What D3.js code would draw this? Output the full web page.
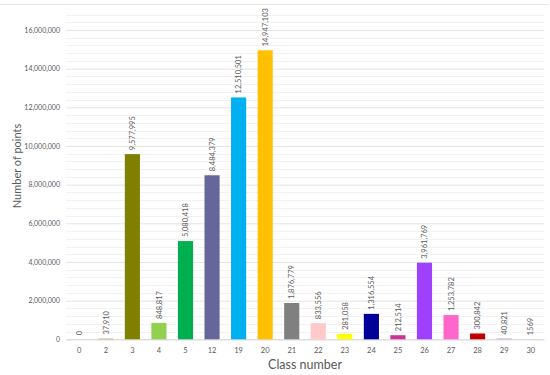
<!DOCTYPE html>
<html><head><meta charset="utf-8">
<script src="https://cdn.jsdelivr.net/npm/d3@7"></script>
<style>body{margin:0;background:#fff}svg{display:block}</style>
</head><body>
<svg id="chart" width="550" height="375"></svg>
<script>
const categories = ["0","2","3","4","5","12","19","20","21","22","23","24","25","26","27","28","29","30"];
const values = [0,37910,9577995,848817,5080418,8484379,12510501,14947103,1876779,833556,281058,1316554,212514,3961769,1253782,300842,40821,1569];
const labels = ["0","37,910","9,577,995","848,817","5,080,418","8,484,379","12,510,501","14,947,103","1,876,779","833,556","281,058","1,316,554","212,514","3,961,769","1,253,782","300,842","40,821","1569"];
const colors = ["#c8a386","#c8a386","#808000","#92d050","#00b050","#66669a","#00b0f0","#ffc000","#808080","#ffc9c9","#ffff00","#000099","#cc3399","#a040ff","#ff66cc","#c00000","#cc99dd","#cc99dd"];
const yTicks = [0,2000000,4000000,6000000,8000000,10000000,12000000,14000000,16000000];

const svg = d3.select("#chart");
const font = "Lato, 'Open Sans', sans-serif";
const pL = 66, pR = 544, pT = 14.5, pB = 339.3;

const x = d3.scaleBand().domain(categories).range([pL, pR]).paddingInner(0).paddingOuter(0);
const y = d3.scaleLinear().domain([0, 16800000]).range([pB, pT]);

// chart border (top)
svg.append("line").attr("x1",0).attr("x2",548).attr("y1",4.5).attr("y2",4.5)
  .attr("stroke","#e6e6e6").attr("stroke-width",1);

// minor gridlines
const minor = d3.range(400000, 16800001, 400000).filter(v => v % 2000000 !== 0);
svg.append("g").selectAll("line").data(minor).join("line")
  .attr("x1",pL).attr("x2",pR)
  .attr("y1",d=>Math.round(y(d))+0.5).attr("y2",d=>Math.round(y(d))+0.5)
  .attr("stroke","#f2f2f2").attr("stroke-width",1);

// major gridlines via axis
const yAxis = d3.axisLeft(y).tickValues(yTicks).tickSize(-(pR-pL)).tickPadding(6)
  .tickFormat(d3.format(","));
const gy = svg.append("g").attr("transform",`translate(${pL},0)`).call(yAxis);
gy.select(".domain").remove();
gy.selectAll(".tick line").attr("stroke","#e3e3e3");
gy.selectAll(".tick text").attr("fill","#595959").style("font-family",font).style("font-size","7px");

// x axis baseline
const xAxis = d3.axisBottom(x).tickSize(0).tickPadding(8);
const gx = svg.append("g").attr("transform",`translate(0,${pB})`).call(xAxis);
gx.select(".domain").attr("stroke","#d9d9d9");
gx.selectAll(".tick text").attr("fill","#595959").style("font-family",font).style("font-size","7.5px");

// bars
const bw = x.bandwidth()*0.57;
svg.append("g").selectAll("rect").data(values).join("rect")
  .attr("x",(d,i)=>x(categories[i]) + (x.bandwidth()-bw)/2)
  .attr("width",bw)
  .attr("y",d=>y(d))
  .attr("height",d=>pB - y(d))
  .attr("fill",(d,i)=>colors[i]);

// data labels
svg.append("g").selectAll("text").data(values).join("text")
  .attr("transform",(d,i)=>`translate(${x(categories[i]) + x.bandwidth()/2 + 2.7},${y(d)-4}) rotate(-90)`)
  .attr("text-anchor","start")
  .attr("fill","#595959")
  .style("font-family",font).style("font-size","7.5px")
  .text((d,i)=>labels[i]);

// axis titles
svg.append("text").attr("transform",`translate(20.5,166) rotate(-90)`)
  .attr("text-anchor","middle").attr("fill","#595959")
  .style("font-family",font).style("font-size","11px").text("Number of points");
svg.append("text").attr("x",305).attr("y",369)
  .attr("text-anchor","middle").attr("fill","#595959")
  .style("font-family",font).style("font-size","12.5px").text("Class number");
</script>
</body></html>
